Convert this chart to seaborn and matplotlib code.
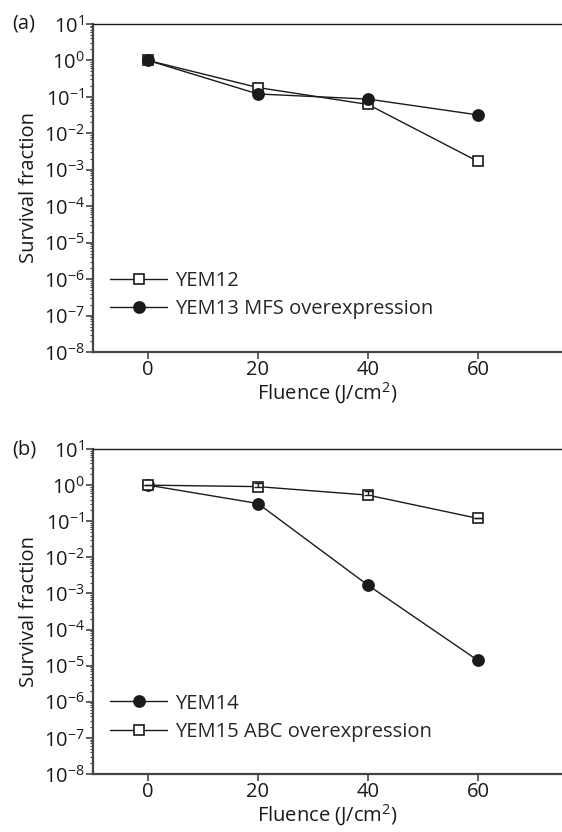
import numpy as np
import pandas as pd
import matplotlib.pyplot as plt
import seaborn as sns
from matplotlib.ticker import LogLocator, NullFormatter

sns.set_style('ticks')
plt.rcParams['font.family'] = ['Open Sans', 'DejaVu Sans']
plt.rcParams['mathtext.fontset'] = 'custom'
plt.rcParams['mathtext.rm'] = 'Open Sans'

# Data
fluence = [0, 20, 40, 60]

# panel (a)
yem12 = [1.0, 0.18, 0.062, 0.0017]
yem13 = [1.0, 0.12, 0.087, 0.032]

# panel (b)
yem14 = [1.0, 0.31, 0.0017, 1.4e-5]
yem15 = [1.0, 0.91, 0.53, 0.12]
yem15_err = [0.0, 0.25, 0.15, 0.0]

ink = '#1a1a1a'
fs = 14.5
fig = plt.figure(figsize=(5.62, 8.32), dpi=100)
ax_a = fig.add_axes([0.1655, 0.5769, 0.8345, 0.3943])
ax_b = fig.add_axes([0.1655, 0.0697, 0.8345, 0.3906])


def draw(ax, name, y, marker, err=None):
    df = pd.DataFrame({'Fluence': fluence, 'Survival': y})
    face = 'white' if marker == 's' else ink
    size = 8 if marker == 'o' else 7.5
    if err is not None:
        ax.errorbar(fluence, y, yerr=[np.zeros(4), err], fmt='none',
                    ecolor=ink, elinewidth=1, capsize=3, zorder=4)
    sns.lineplot(data=df, x='Fluence', y='Survival', ax=ax, color=ink, lw=1,
                 marker=marker, markersize=size, markerfacecolor=face,
                 markeredgecolor=ink, markeredgewidth=1.2, label=name,
                 zorder=3)


def style(ax, tag):
    ax.set_yscale('log')
    ax.set_ylim(1e-8, 10)
    ax.set_xlim(-10, 75.3)
    ax.set_xticks([0, 20, 40, 60])
    ax.yaxis.set_major_locator(LogLocator(base=10, numticks=20))
    ax.yaxis.set_minor_locator(LogLocator(base=10, subs=np.arange(2, 10), numticks=20))
    ax.yaxis.set_minor_formatter(NullFormatter())
    ax.tick_params(axis='both', which='major', labelsize=fs, length=5,
                   width=1.2, color='#444444', labelcolor=ink, pad=1)
    ax.tick_params(axis='y', which='minor', length=2.5, width=0.8, color='#444444')
    for side in ['left', 'bottom']:
        ax.spines[side].set_linewidth(1.6)
        ax.spines[side].set_color('#444444')
    ax.spines['top'].set_linewidth(1.0)
    ax.spines['top'].set_color(ink)
    ax.spines['right'].set_visible(False)
    ax.set_xlabel('Fluence (J/cm$^2$)', fontsize=fs, color=ink, labelpad=0)
    ax.set_ylabel('Survival fraction', fontsize=fs, color=ink, labelpad=3)
    ax.text(-0.173, 1.0, tag, transform=ax.transAxes, fontsize=fs,
            color=ink, ha='left', va='center')
    ax.legend(loc='lower left', bbox_to_anchor=(0.02, 0.075), frameon=False,
              fontsize=fs, handlelength=2.8, handletextpad=0.4,
              labelspacing=0.4, borderaxespad=0, numpoints=1)


draw(ax_a, 'YEM12', yem12, 's')
draw(ax_a, 'YEM13 MFS overexpression', yem13, 'o')
style(ax_a, '(a)')

draw(ax_b, 'YEM14', yem14, 'o')
draw(ax_b, 'YEM15 ABC overexpression', yem15, 's', err=yem15_err)
style(ax_b, '(b)')

fig.savefig('out.png', dpi=100)
